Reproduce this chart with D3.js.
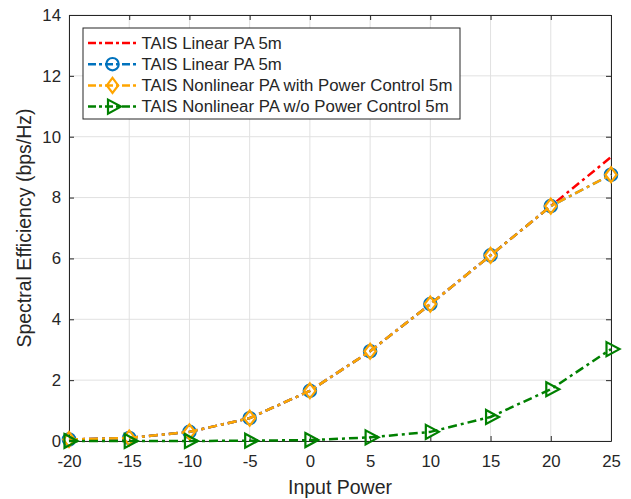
<!DOCTYPE html>
<html><head><meta charset="utf-8">
<script src="https://cdn.jsdelivr.net/npm/d3@7"></script>
<style>body{margin:0;background:#fff;}svg{display:block;}text{font-family:"Liberation Sans",Arial,Helvetica,sans-serif;fill:#262626;}</style>
</head><body><svg id="c" width="631" height="499"></svg>
<script>
const xValues = [-20, -15, -10, -5, 0, 5, 10, 15, 20, 25];
const linearPA = [0.05, 0.1, 0.3, 0.75, 1.65, 2.95, 4.5, 6.1, 7.72, 9.33];
const linearPA2 = [0.05, 0.1, 0.3, 0.75, 1.65, 2.95, 4.5, 6.1, 7.72, 8.75];
const nonlinearPC = [0.05, 0.1, 0.3, 0.75, 1.65, 2.95, 4.5, 6.1, 7.72, 8.75];
const nonlinearNoPC = [0, 0, 0, 0.01, 0.03, 0.12, 0.3, 0.79, 1.7, 3.02];
const xTicks = [-20, -15, -10, -5, 0, 5, 10, 15, 20, 25];
const yTicks = [0, 2, 4, 6, 8, 10, 12, 14];
const seriesNames = ["TAIS Linear PA 5m", "TAIS Linear PA 5m", "TAIS Nonlinear PA with Power Control 5m", "TAIS Nonlinear PA w/o Power Control 5m"];
const seriesColors = ["#ff0000", "#0072bd", "#ffa500", "#008000"];
const seriesMarkers = ["none", "circle", "diamond", "triangle"];

const svg = d3.select("#c");
const L = 69, R = 611, T = 15, B = 441;
const x = d3.scaleLinear().domain([-20, 25]).range([L, R]);
const y = d3.scaleLinear().domain([0, 14]).range([B, T]);
const fmt = d => String(d);

// grid
const g = svg.append("g");
g.selectAll(".vg").data(xTicks).enter().append("line")
  .attr("x1", d => x(d)).attr("x2", d => x(d)).attr("y1", T).attr("y2", B)
  .attr("stroke", "#e1e1e1").attr("stroke-width", 1);
g.selectAll(".hg").data(yTicks).enter().append("line")
  .attr("x1", L).attr("x2", R).attr("y1", d => y(d)).attr("y2", d => y(d))
  .attr("stroke", "#e1e1e1").attr("stroke-width", 1);

// axes
const xa = svg.append("g").attr("transform", `translate(0,${B})`)
  .call(d3.axisBottom(x).tickValues(xTicks).tickFormat(fmt).tickSizeInner(-5).tickSizeOuter(0).tickPadding(14));
const ya = svg.append("g").attr("transform", `translate(${L},0)`)
  .call(d3.axisLeft(y).tickValues(yTicks).tickFormat(fmt).tickSizeInner(-5).tickSizeOuter(0).tickPadding(8));
const xt = svg.append("g").attr("transform", `translate(0,${T})`)
  .call(d3.axisTop(x).tickValues(xTicks).tickSizeInner(-5).tickSizeOuter(0).tickFormat(""));
const yr = svg.append("g").attr("transform", `translate(${R},0)`)
  .call(d3.axisRight(y).tickValues(yTicks).tickSizeInner(-5).tickSizeOuter(0).tickFormat(""));
[xa, ya, xt, yr].forEach(a => {
  a.selectAll("path,line").attr("stroke", "#262626").attr("stroke-width", 1);
  a.selectAll("text").style("font-size", "16.8px").attr("fill", "#262626");
});

// labels
svg.append("text").attr("x", (L + R) / 2).attr("y", 494).attr("text-anchor", "middle")
  .style("font-size", "19.5px").text("Input Power");
svg.append("text").attr("transform", `translate(30.5,${(T + B) / 2}) rotate(-90)`).attr("text-anchor", "middle")
  .style("font-size", "19.5px").text("Spectral Efficiency (bps/Hz)");

const allData = [linearPA, linearPA2, nonlinearPC, nonlinearNoPC];
const line = d3.line().x(d => x(d[0])).y(d => y(d[1]));
const dash = "9,4,3,4";

function marker(sel, type, color) {
  if (type === "circle") {
    sel.append("circle").attr("r", 6.2).attr("fill", "none").attr("stroke", color).attr("stroke-width", 2.2);
  } else if (type === "diamond") {
    sel.append("path").attr("d", "M0,-7.5L5.7,0L0,7.5L-5.7,0Z").attr("fill", "none").attr("stroke", color).attr("stroke-width", 2.2);
  } else if (type === "triangle") {
    sel.append("path").attr("d", "M-4.5,-7L8.5,0L-4.5,7Z").attr("fill", "none").attr("stroke", color).attr("stroke-width", 2.2);
  }
}

const plot = svg.append("g");
allData.forEach((vals, i) => {
  const pts = xValues.map((v, j) => [v, vals[j]]);
  plot.append("path").datum(pts).attr("d", line).attr("fill", "none")
    .attr("stroke", seriesColors[i]).attr("stroke-width", 2.5).attr("stroke-dasharray", dash);
  if (seriesMarkers[i] !== "none") {
    pts.forEach(p => {
      const m = plot.append("g").attr("transform", `translate(${x(p[0])},${y(p[1])})`);
      marker(m, seriesMarkers[i], seriesColors[i]);
    });
  }
});

// legend
const lg = svg.append("g");
lg.append("rect").attr("x", 83).attr("y", 28).attr("width", 377).attr("height", 91)
  .attr("fill", "#fff").attr("stroke", "#262626").attr("stroke-width", 1);
seriesNames.forEach((n, i) => {
  const yy = 43 + i * 21.2;
  lg.append("line").attr("x1", 88).attr("x2", 137).attr("y1", yy).attr("y2", yy)
    .attr("stroke", seriesColors[i]).attr("stroke-width", 2.5).attr("stroke-dasharray", "8,3,3,3");
  if (seriesMarkers[i] !== "none") {
    const m = lg.append("g").attr("transform", `translate(112.5,${yy})`);
    marker(m, seriesMarkers[i], seriesColors[i]);
  }
  lg.append("text").attr("x", 141.5).attr("y", yy + 5.5).style("font-size", "16.8px").text(n);
});
</script></body></html>
